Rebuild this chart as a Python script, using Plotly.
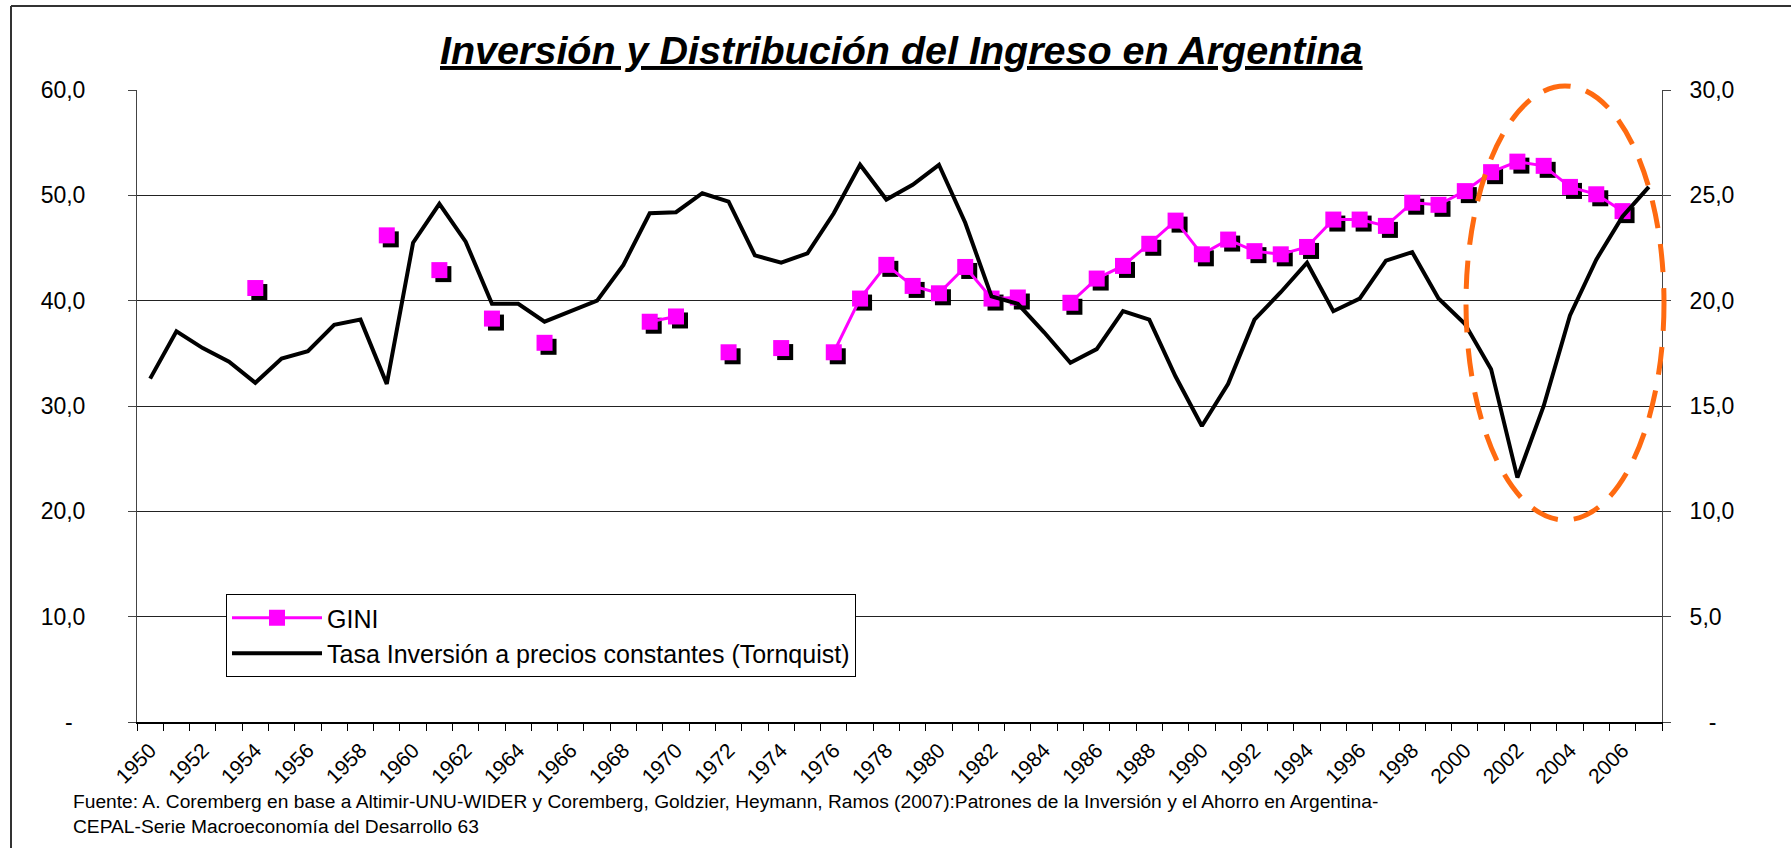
import plotly.graph_objects as go

# ---------------- data ----------------
years = list(range(1950, 2008))

# Tasa de inversión a precios constantes (Tornquist), % (right axis)
inversion = [16.3, 18.55, 17.75, 17.1, 16.1, 17.25, 17.6, 18.85, 19.1, 16.05,
             22.75, 24.6, 22.8, 19.85, 19.85, 19.0, 19.5, 20.0, 21.7, 24.15,
             24.2, 25.1, 24.7, 22.15, 21.8, 22.25, 24.15, 26.45, 24.8, 25.5,
             26.45, 23.7, 20.2, 19.85, 18.5, 17.05, 17.7, 19.5, 19.1, 16.4,
             14.05, 16.05, 19.1, 20.4, 21.8, 19.5, 20.1, 21.9, 22.3, 20.1,
             18.9, 16.75, 11.6, 15.0, 19.3, 21.95, 24.0, 25.4]

# GINI (left axis); None = no observation
gini = [None, None, None, None, 41.2, None, None, None, None, 46.2,
        None, 42.9, None, 38.3, None, 36.0, None, None, None, 38.0,
        38.5, None, 35.1, None, 35.5, None, 35.1, 40.2, 43.4, 41.4,
        40.7, 43.2, 40.2, 40.3, None, 39.8, 42.1, 43.3, 45.4, 47.6,
        44.4, 45.8, 44.7, 44.4, 45.1, 47.7, 47.7, 47.1, 49.3, 49.1,
        50.4, 52.2, 53.2, 52.8, 50.8, 50.1, 48.5, None]

left_ticks = [0, 10, 20, 30, 40, 50, 60]
left_text = ["-\u00a0\u00a0", "10,0", "20,0", "30,0", "40,0", "50,0", "60,0"]
right_ticks = [0, 5, 10, 15, 20, 25, 30]
right_text = ["\u00a0\u00a0\u00a0-", "5,0", "10,0", "15,0", "20,0", "25,0", "30,0"]
label_years = list(range(1950, 2007, 2))

title_text = "Inversión y Distribución del Ingreso en Argentina"
source_text = ("Fuente: A. Coremberg en base a Altimir-UNU-WIDER y Coremberg, Goldzier, Heymann, "
               "Ramos (2007):Patrones de la Inversión y el Ahorro en Argentina-<br>"
               "CEPAL-Serie Macroeconomía del Desarrollo 63")

# ---------------- layout geometry ----------------
W, H = 1791, 848
L, R, T, B = 137, 1662, 90, 722
PW, PH = R - L, B - T
xr = [years[0] - 0.5, years[-1] + 0.5]
yr = [0, 60]
FONT = "Liberation Sans, Arial, sans-serif"
MAGENTA = "#FF00FF"

# shadow offset for the GINI markers (pixels -> data units)
SH = 4
dx = SH * (xr[1] - xr[0]) / PW
dy = SH * (yr[1] - yr[0]) / PH
shadow_x = [y + dx for y, g in zip(years, gini) if g is not None]
shadow_y = [g - dy for g in gini if g is not None]

fig = go.Figure()

fig.add_trace(go.Scatter(
    x=shadow_x, y=shadow_y, mode="markers", showlegend=False, hoverinfo="skip",
    marker=dict(symbol="square", size=16, color="black", line=dict(width=0)),
    xaxis="x", yaxis="y"))

fig.add_trace(go.Scatter(
    x=years, y=gini, name="GINI", mode="lines+markers", connectgaps=False,
    line=dict(color=MAGENTA, width=3),
    marker=dict(symbol="square", size=16, color=MAGENTA, line=dict(width=0)),
    xaxis="x", yaxis="y"))

fig.add_trace(go.Scatter(
    x=years, y=inversion, name="Tasa Inversión a precios constantes (Tornquist)",
    mode="lines", line=dict(color="black", width=4),
    xaxis="x", yaxis="y2"))

fig.update_layout(
    width=W, height=H,
    margin=dict(l=L, r=W - R, t=T, b=H - B, autoexpand=False),
    paper_bgcolor="white", plot_bgcolor="white",
    font=dict(family=FONT, color="black", size=20),
    xaxis=dict(
        range=xr, tickmode="array", tickvals=label_years,
        ticktext=[str(y) for y in label_years], tickangle=-45,
        ticks="", showgrid=False, zeroline=False,
        showline=True, linecolor="black", linewidth=1.5,
        tickfont=dict(size=21, family=FONT),
        ticklabelstandoff=6,
        minor=dict(tickmode="array", tickvals=[y - 0.5 for y in years] + [years[-1] + 0.5],
                   ticks="outside", ticklen=7, tickcolor="black", tickwidth=1,
                   showgrid=False),
    ),
    yaxis=dict(
        range=yr, tickmode="array", tickvals=left_ticks, ticktext=left_text,
        showgrid=True, gridcolor="#222222", gridwidth=1,
        zeroline=False, showline=True, linecolor="#444444", linewidth=1,
        ticks="outside", ticklen=8, tickcolor="#444444",
        tickfont=dict(size=23, family=FONT), ticklabelstandoff=38,
    ),
    yaxis2=dict(
        range=[0, 30], overlaying="y", side="right",
        tickmode="array", tickvals=right_ticks, ticktext=right_text,
        showgrid=False, zeroline=False, showline=True, linecolor="#444444", linewidth=1,
        ticks="outside", ticklen=8, tickcolor="#444444",
        tickfont=dict(size=23, family=FONT), ticklabelstandoff=14,
    ),
    legend=dict(
        x=(226 - L) / PW, y=(B - 594) / PH, xanchor="left", yanchor="top",
        bgcolor="white", bordercolor="black", borderwidth=1,
        font=dict(size=25, family=FONT), itemwidth=90,
        tracegroupgap=0,
    ),
    showlegend=True,
)

# title
fig.add_annotation(
    x=(901 - L) / PW, y=(B - 50) / PH, xref="paper", yref="paper",
    text="<b><i><u>" + title_text + "</u></i></b>", showarrow=False,
    xanchor="center", yanchor="middle", font=dict(size=39.5, family=FONT, color="black"))

# source note
fig.add_annotation(
    x=(71 - L) / PW, y=(B - 789) / PH, xref="paper", yref="paper",
    text=source_text, showarrow=False, align="left",
    xanchor="left", yanchor="top", font=dict(size=19.2, family=FONT, color="black"))

# highlight ellipse around 2000-2007
fig.add_shape(
    type="circle", xref="paper", yref="paper",
    x0=(1466 - L) / PW, x1=(1664 - L) / PW, y0=(B - 520) / PH, y1=(B - 86) / PH,
    line=dict(color="#FF6A10", width=5, dash="28px,16px"), layer="above")

# outer frame (top and left edges)
fx0 = (11 - L) / PW
fy1 = (B - 6) / PH
fig.add_shape(type="line", xref="paper", yref="paper", x0=fx0, x1=(W - L) / PW,
              y0=fy1, y1=fy1, line=dict(color="#333333", width=2))
fig.add_shape(type="line", xref="paper", yref="paper", x0=fx0, x1=fx0,
              y0=fy1, y1=(B - H) / PH, line=dict(color="#333333", width=2))

fig.write_html("out.html", config={"displayModeBar": False},
               post_script="document.body.style.margin='0px';")
